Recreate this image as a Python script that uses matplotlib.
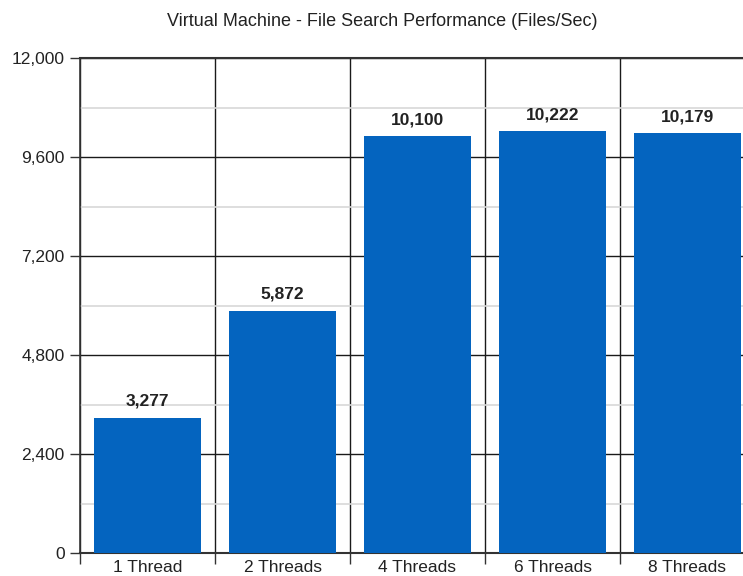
import matplotlib.pyplot as plt
from matplotlib.ticker import MultipleLocator, FuncFormatter

plt.rcParams['font.family'] = ['Liberation Sans', 'DejaVu Sans']

# 数据
categories = ['1 Thread', '2 Threads', '4 Threads', '6 Threads', '8 Threads']
files_per_sec = [3277, 5872, 10100, 10222, 10179]

BAR_COLOR = '#0464BF'
TEXT_COLOR = '#222222'

fig = plt.figure(figsize=(7.43, 5.76), dpi=100)
# 右边界故意超出画布，最后一列被裁掉一部分
ax = fig.add_axes([80 / 743, 23 / 576, 675 / 743, 495 / 576])

x = range(len(categories))
ax.bar(x, files_per_sec, width=0.79, color=BAR_COLOR, zorder=3)

for xi, v in zip(x, files_per_sec):
    ax.text(xi, v + 220, f'{v:,}', ha='center', va='bottom',
            fontsize=12.5, fontweight='bold', color=TEXT_COLOR, zorder=4)

ax.set_xlim(-0.5, len(categories) - 0.5)
ax.set_ylim(0, 12000)

# 刻度与网格
ax.yaxis.set_major_locator(MultipleLocator(2400))
ax.yaxis.set_minor_locator(MultipleLocator(1200))
ax.yaxis.set_major_formatter(FuncFormatter(lambda v, _: f'{int(v):,}'))
ax.grid(which='major', axis='y', color='#1a1a1a', linewidth=1.0, zorder=1)
ax.grid(which='minor', axis='y', color='#d8d8d8', linewidth=1.2, zorder=0)
ax.tick_params(axis='y', which='major', length=7, width=1, color='#333333',
               labelsize=12.5, labelcolor=TEXT_COLOR, pad=4)
ax.tick_params(axis='y', which='minor', length=0)

# 分类之间的竖线
ax.set_xticks(list(x))
ax.set_xticklabels(categories)
ax.set_xticks([i - 0.5 for i in range(len(categories) + 1)], minor=True)
ax.grid(which='minor', axis='x', color='#1a1a1a', linewidth=1.0, zorder=1)
ax.tick_params(axis='x', which='major', length=0, labelsize=12.5,
               labelcolor=TEXT_COLOR, pad=5)
ax.tick_params(axis='x', which='minor', length=8, width=1, color='#333333')

for side in ['top', 'right']:
    ax.spines[side].set_visible(False)
ax.spines['left'].set_color('#333333')
ax.spines['bottom'].set_color('#333333')
ax.spines['bottom'].set_linewidth(1.5)
ax.spines['left'].set_linewidth(1.2)

ax.axhline(12000, color='#333333', linewidth=1.5, zorder=2, clip_on=False)

fig.text(382 / 743, 1 - 21 / 576, 'Virtual Machine - File Search Performance (Files/Sec)',
         ha='center', va='center', fontsize=13, color=TEXT_COLOR)

fig.savefig('out.png', dpi=100, facecolor='white')
